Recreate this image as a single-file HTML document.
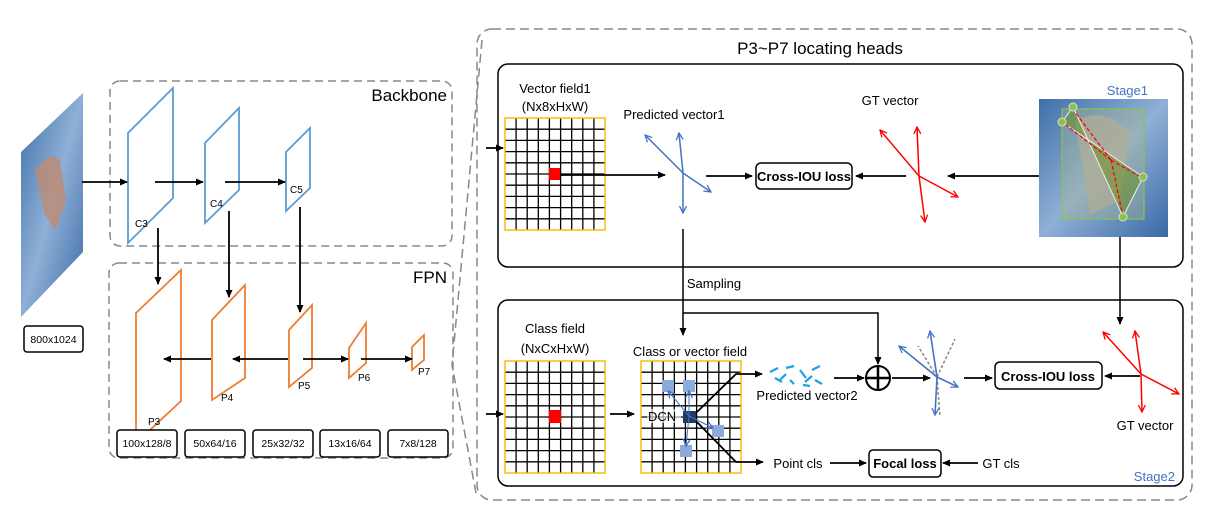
<!DOCTYPE html>
<html><head><meta charset="utf-8"><style>body{margin:0;background:#fff}svg{display:block}text{font-family:"Liberation Sans",sans-serif}</style></head><body>
<svg width="1221" height="517" viewBox="0 0 1221 517" xmlns="http://www.w3.org/2000/svg">
<defs>
<marker id="a" markerWidth="8" markerHeight="8" refX="7" refY="4" orient="auto" markerUnits="userSpaceOnUse"><path d="M0,0.5 L8,4 L0,7.5 Z" fill="#000"/></marker>
<marker id="b" markerWidth="8" markerHeight="8" refX="7" refY="4" orient="auto" markerUnits="userSpaceOnUse"><path d="M0,0.5 L7,4 L0,7.5" fill="none" stroke="#4472c4" stroke-width="1.3"/></marker>
<marker id="r" markerWidth="8" markerHeight="8" refX="7" refY="4" orient="auto" markerUnits="userSpaceOnUse"><path d="M0,0.5 L7,4 L0,7.5" fill="none" stroke="#f00" stroke-width="1.3"/></marker>
<linearGradient id="img" x1="0" y1="0" x2="1" y2="1"><stop offset="0" stop-color="#3f6fa8"/><stop offset=".5" stop-color="#8fb0d6"/><stop offset="1" stop-color="#3a69a5"/></linearGradient>
<g id="grid">
<rect x="0" y="0" width="100" height="112" fill="#fff"/>
<path d="M11.1,0V112M22.2,0V112M33.3,0V112M44.4,0V112M55.6,0V112M66.7,0V112M77.8,0V112M88.9,0V112M0,11.2H100M0,22.4H100M0,33.6H100M0,44.8H100M0,56H100M0,67.2H100M0,78.4H100M0,89.6H100M0,100.8H100" stroke="#000" stroke-width="1.3" fill="none"/>
<rect x="0" y="0" width="100" height="112" fill="none" stroke="#f5b800" stroke-width="1.4"/>
</g>
</defs>
<rect x="110" y="81" width="342" height="165" rx="10" fill="none" stroke="#888" stroke-width="1.5" stroke-dasharray="8,5"/>
<rect x="109" y="263" width="344" height="195" rx="10" fill="none" stroke="#888" stroke-width="1.5" stroke-dasharray="8,5"/>
<text x="447" y="101" font-size="17" text-anchor="end">Backbone</text>
<text x="447" y="283" font-size="17" text-anchor="end">FPN</text>
<polygon points="21,152 83,93 83,252 21,317" fill="url(#img)"/>
<path d="M35,170 Q50,150 60,160 L66,200 L55,230 L45,215 Z" fill="#c08a70" opacity=".8"/>
<rect x="24" y="326" width="59" height="26" rx="3" fill="#fff" stroke="#000" stroke-width="1.5"/>
<text x="53.5" y="343" font-size="10.5" text-anchor="middle">800x1024</text>
<g fill="none" stroke="#5b9bd5" stroke-width="1.8">
<polygon points="128,133 173,88 173,198 128,243"/>
<polygon points="205,143 239,108 239,190 205,223"/>
<polygon points="286,152 310,128 310,188 286,211"/>
</g>
<g fill="none" stroke="#ed7d31" stroke-width="1.8">
<polygon points="136,313 181,270 181,401 136,443"/>
<polygon points="212,320 245,285 245,378 212,400"/>
<polygon points="289,330 312,305 312,368 289,387"/>
<polygon points="349,348 366,323 366,363 349,378"/>
<polygon points="412,347 424,335 424,360 412,370"/>
</g>
<g font-size="10" fill="#000">
<text x="135" y="227">C3</text><text x="210" y="207">C4</text><text x="290" y="193">C5</text>
<text x="148" y="425">P3</text><text x="221" y="401">P4</text><text x="298" y="389">P5</text><text x="358" y="381">P6</text><text x="418" y="375">P7</text>
</g>
<g stroke="#000" stroke-width="1.8" marker-end="url(#a)">
<line x1="82" y1="182" x2="127" y2="182"/>
<line x1="155" y1="182" x2="203" y2="182"/>
<line x1="225" y1="182" x2="285" y2="182"/>
<line x1="158" y1="228" x2="158" y2="284"/>
<line x1="229" y1="211" x2="229" y2="297"/>
<line x1="300" y1="207" x2="300" y2="312"/>
<line x1="288" y1="359" x2="233" y2="359"/>
<line x1="211" y1="359" x2="164" y2="359"/>
<line x1="303" y1="359" x2="348" y2="359"/>
<line x1="361" y1="359" x2="412" y2="359"/>
</g>
<g fill="#fff" stroke="#000" stroke-width="1.5">
<rect x="117" y="430" width="60" height="27" rx="3"/><rect x="185" y="430" width="60" height="27" rx="3"/><rect x="253" y="430" width="60" height="27" rx="3"/><rect x="320" y="430" width="60" height="27" rx="3"/><rect x="388" y="430" width="60" height="27" rx="3"/>
</g>
<g font-size="10.5" text-anchor="middle">
<text x="147" y="447">100x128/8</text><text x="215" y="447">50x64/16</text><text x="283" y="447">25x32/32</text><text x="350" y="447">13x16/64</text><text x="418" y="447">7x8/128</text>
</g>
<rect x="477" y="29" width="715" height="471" rx="15" fill="none" stroke="#888" stroke-width="1.5" stroke-dasharray="9,5"/>
<path d="M482,40 L452,365 L476,493" fill="none" stroke="#888" stroke-width="1.5" stroke-dasharray="9,5"/>
<text x="820" y="54" font-size="17" text-anchor="middle">P3~P7 locating heads</text>
<rect x="498" y="64" width="685" height="203" rx="10" fill="none" stroke="#000" stroke-width="1.5"/>
<rect x="498" y="300" width="685" height="186" rx="10" fill="none" stroke="#000" stroke-width="1.5"/>
<text x="555" y="93" font-size="13" text-anchor="middle">Vector field1</text>
<text x="555" y="111" font-size="13" text-anchor="middle">(Nx8xHxW)</text>
<use href="#grid" x="505" y="118"/>
<rect x="549" y="168" width="11" height="12" fill="#f00"/>
<g stroke="#000" stroke-width="1.8" marker-end="url(#a)">
<line x1="486" y1="148" x2="503" y2="148"/>
<line x1="486" y1="414" x2="503" y2="414"/>
<line x1="560" y1="175" x2="665" y2="175"/>
<line x1="706" y1="176" x2="752" y2="176"/>
<line x1="906" y1="176" x2="856" y2="176"/>
<line x1="1040" y1="176" x2="948" y2="176"/>
</g>
<text x="674" y="119" font-size="13" text-anchor="middle">Predicted vector1</text>
<g stroke="#4472c4" stroke-width="1.5" marker-end="url(#b)" fill="none">
<line x1="683" y1="173" x2="645" y2="135"/><line x1="683" y1="173" x2="711" y2="192"/>
<line x1="683" y1="173" x2="679" y2="133"/><line x1="683" y1="173" x2="683" y2="213"/>
</g>
<rect x="756" y="163" width="96" height="26" rx="5" fill="#fff" stroke="#000" stroke-width="1.5"/>
<text x="804" y="181" font-size="13" font-weight="bold" text-anchor="middle">Cross-IOU loss</text>
<text x="890" y="105" font-size="13" text-anchor="middle">GT vector</text>
<g stroke="#f00" stroke-width="1.5" marker-end="url(#r)" fill="none">
<line x1="919" y1="176" x2="880" y2="130"/><line x1="919" y1="176" x2="958" y2="197"/>
<line x1="919" y1="176" x2="917" y2="127"/><line x1="919" y1="176" x2="925" y2="222"/>
</g>
<text x="1148" y="95" font-size="13" fill="#4472c4" text-anchor="end">Stage1</text>
<rect x="1039" y="99" width="129" height="138" fill="url(#img)"/>
<path d="M1075,120 Q1110,105 1130,135 L1120,200 L1090,215 Z" fill="#b8a89a" opacity=".7"/>
<rect x="1062" y="109" width="82" height="110" fill="#a8b88a" fill-opacity=".35" stroke="#8bc34a" stroke-width="1.2"/>
<polygon points="1073,107 1062,122 1143,177 1123,217" fill="#6b8e23" fill-opacity=".55" stroke="#eee" stroke-width="1"/>
<g fill="#8bc34a" stroke="#ddd"><circle cx="1073" cy="107" r="4"/><circle cx="1062" cy="122" r="4"/><circle cx="1143" cy="177" r="4"/><circle cx="1123" cy="217" r="4"/></g>
<g stroke="#f00" stroke-width="1.2" stroke-dasharray="4,2" fill="none"><line x1="1111" y1="160" x2="1075" y2="112"/><line x1="1111" y1="160" x2="1066" y2="125"/><line x1="1111" y1="160" x2="1139" y2="176"/><line x1="1111" y1="160" x2="1122" y2="212"/></g>
<line x1="683" y1="229" x2="683" y2="335" stroke="#000" stroke-width="1.5" marker-end="url(#a)"/>
<polyline points="683,313 878,313 878,364" fill="none" stroke="#000" stroke-width="1.5" marker-end="url(#a)"/>
<line x1="1120" y1="237" x2="1120" y2="324" stroke="#000" stroke-width="1.5" marker-end="url(#a)"/>
<text x="714" y="288" font-size="13" text-anchor="middle">Sampling</text>
<text x="555" y="333" font-size="13" text-anchor="middle">Class field</text>
<text x="555" y="353" font-size="13" text-anchor="middle">(NxCxHxW)</text>
<use href="#grid" x="505" y="361"/>
<rect x="549" y="410" width="12" height="13" fill="#f00"/>
<text x="690" y="356" font-size="13" text-anchor="middle">Class or vector field</text>
<use href="#grid" x="641" y="361"/>
<g fill="#8ea9db"><rect x="662" y="380" width="12" height="12"/><rect x="683" y="380" width="12" height="12"/><rect x="712" y="425" width="12" height="12"/><rect x="680" y="445" width="12" height="12"/></g>
<rect x="683" y="411" width="13" height="12" fill="#1f3864"/>
<rect x="647" y="409" width="34" height="14" fill="#fff" opacity=".6"/>
<text x="648" y="421" font-size="13">DCN</text>
<g stroke="#4472c4" stroke-width="1" marker-end="url(#b)"><line x1="689" y1="416" x2="668" y2="391"/><line x1="689" y1="416" x2="689" y2="391"/><line x1="689" y1="416" x2="713" y2="428"/><line x1="689" y1="416" x2="686" y2="446"/></g>
<polyline points="697,412 736,374 762,374" fill="none" stroke="#000" stroke-width="1.8" marker-end="url(#a)"/>
<polyline points="697,422 736,462 763,462" fill="none" stroke="#000" stroke-width="1.8" marker-end="url(#a)"/>
<g stroke="#1fa0e0" stroke-width="2.2">
<line x1="770" y1="372" x2="778" y2="368"/><line x1="780" y1="380" x2="786" y2="374"/><line x1="786" y1="368" x2="794" y2="366"/><line x1="790" y1="380" x2="794" y2="384"/><line x1="775" y1="378" x2="782" y2="382"/>
<line x1="800" y1="370" x2="806" y2="378"/><line x1="805" y1="382" x2="812" y2="376"/><line x1="812" y1="370" x2="820" y2="366"/><line x1="815" y1="380" x2="822" y2="384"/><line x1="803" y1="385" x2="810" y2="386"/>
</g>
<text x="807" y="400" font-size="13" text-anchor="middle">Predicted vector2</text>
<g stroke="#000" stroke-width="1.8" marker-end="url(#a)">
<line x1="610" y1="414" x2="634" y2="414"/>
<line x1="834" y1="378" x2="864" y2="378"/>
<line x1="892" y1="378" x2="930" y2="378"/>
<line x1="964" y1="378" x2="992" y2="378"/>
<line x1="1140" y1="376" x2="1105" y2="376"/>
<line x1="830" y1="463" x2="866" y2="463"/>
<line x1="978" y1="463" x2="943" y2="463"/>
</g>
<circle cx="878" cy="378" r="12" fill="#fff" stroke="#000" stroke-width="2"/>
<path d="M866,378 H890 M878,366 V390" stroke="#000" stroke-width="2.5"/>
<g stroke="#888" stroke-width="1.5" stroke-dasharray="3,2" fill="none"><line x1="937" y1="377" x2="918" y2="346"/><line x1="937" y1="377" x2="940" y2="417"/><line x1="937" y1="377" x2="955" y2="339"/></g>
<g stroke="#4472c4" stroke-width="1.6" marker-end="url(#b)" fill="none">
<line x1="937" y1="377" x2="899" y2="346"/><line x1="937" y1="377" x2="958" y2="387"/>
<line x1="937" y1="377" x2="930" y2="331"/><line x1="937" y1="377" x2="935" y2="415"/>
</g>
<rect x="995" y="362" width="107" height="27" rx="5" fill="#fff" stroke="#000" stroke-width="1.5"/>
<text x="1048" y="381" font-size="13" font-weight="bold" text-anchor="middle">Cross-IOU loss</text>
<g stroke="#f00" stroke-width="1.5" marker-end="url(#r)" fill="none">
<line x1="1141" y1="374" x2="1103" y2="332"/><line x1="1141" y1="374" x2="1179" y2="394"/>
<line x1="1141" y1="374" x2="1135" y2="331"/><line x1="1141" y1="374" x2="1142" y2="412"/>
</g>
<text x="1145" y="430" font-size="13" text-anchor="middle">GT vector</text>
<text x="798" y="468" font-size="13" text-anchor="middle">Point cls</text>
<rect x="869" y="450" width="72" height="27" rx="4" fill="#fff" stroke="#000" stroke-width="1.5"/>
<text x="905" y="468" font-size="13" font-weight="bold" text-anchor="middle">Focal loss</text>
<text x="1001" y="468" font-size="13" text-anchor="middle">GT cls</text>
<text x="1175" y="481" font-size="13" fill="#4472c4" text-anchor="end">Stage2</text>
</svg>
</body></html>
